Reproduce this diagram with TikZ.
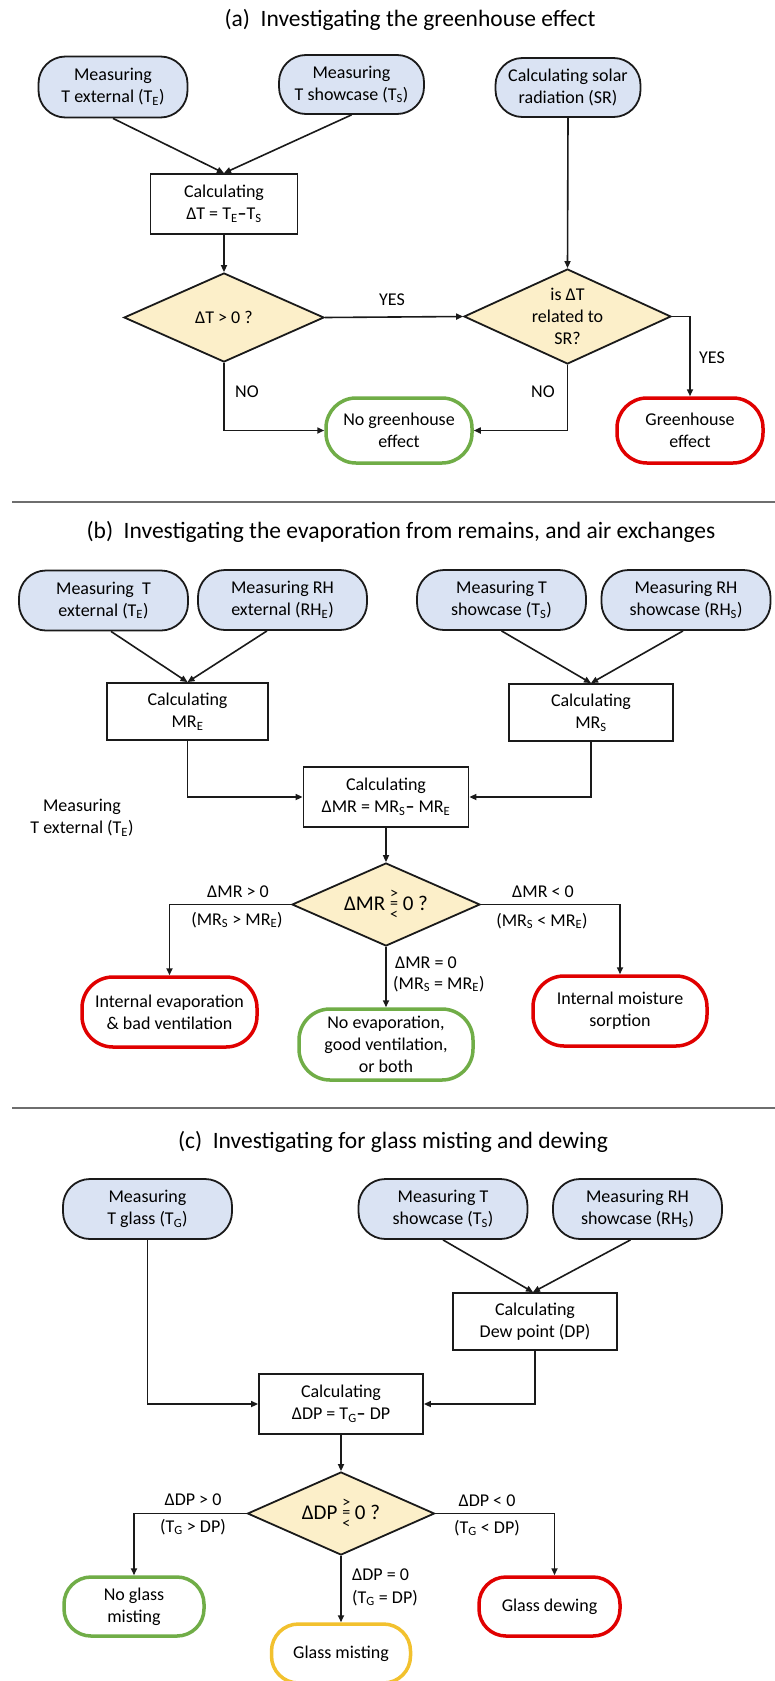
\documentclass[tikz,border=0pt]{standalone}
\usepackage{fontspec}
\setmainfont{Carlito}
\usetikzlibrary{shapes.geometric,arrows.meta}
\definecolor{bluefill}{HTML}{DAE3F3}
\definecolor{diafill}{HTML}{FCEFC9}
\definecolor{okgreen}{HTML}{70AD47}
\definecolor{badred}{HTML}{E00000}
\definecolor{warnyel}{HTML}{F2C12E}
\definecolor{sepgray}{HTML}{6E6E6E}
\definecolor{ink}{HTML}{1A1A1A}
\newcommand{\cmpsym}{{\fontsize{16}{0}\selectfont\rlap{\raisebox{12.2pt}{>}}\rlap{\raisebox{1.5pt}{=}}\raisebox{-8.8pt}{<}}}
\begin{document}
\begin{tikzpicture}[x=1pt,y=-1pt,
  txt/.style={font=\fontsize{18}{22}\selectfont, align=center, inner sep=0pt},
  dtxt/.style={font=\fontsize{21}{25}\selectfont, align=center, inner sep=0pt},
  inbox/.style={txt, draw=ink, fill=bluefill, line width=1.8pt, rounded corners=27pt, minimum width=169pt, minimum height=60pt},
  calcbox/.style={txt, draw=ink, fill=white, line width=1.8pt, minimum width=164pt, minimum height=57pt},
  dia/.style={txt, diamond, draw=ink, fill=diafill, line width=1.8pt},
  outbox/.style={txt, fill=white, line width=3.5pt, rounded corners=28pt},
  good/.style={outbox, draw=okgreen},
  bad/.style={outbox, draw=badred},
  warn/.style={outbox, draw=warnyel},
  flow/.style={draw=ink, line width=1.6pt, -{Triangle[length=7pt,width=6pt]}},
  sep/.style={draw=sepgray, line width=2.8pt},
  ttl/.style={font=\fontsize{23.5}{28}\selectfont, inner sep=0pt},
  lbl/.style={font=\fontsize{18}{22}\selectfont, inner sep=0pt},
]
\fill[white] (0,0) rectangle (775,1681);
\useasboundingbox (0,0) rectangle (775,1681);

% ---------------- (a) ----------------
\node[ttl] (aTitle) at (410,20) {(a)\hspace{0.45em}Investigating the greenhouse effect};
\node[inbox, minimum width=149pt, minimum height=61pt] (aTE) at (113,87) {Measuring\\T external (T\textsubscript{E})};
\node[inbox, minimum width=145pt, minimum height=59pt] (aTS) at (351.5,84.5) {Measuring\\T showcase (T\textsubscript{S})};
\node[inbox, minimum width=145pt, minimum height=59pt] (aSR) at (568,87.5) {Calculating solar\\radiation (SR)};
\node[calcbox, minimum width=147pt, minimum height=60pt] (aCalc) at (224,204) {Calculating\\ΔT = T\textsubscript{E}{\bfseries –}T\textsubscript{S}};
\node[dia, aspect=2.25, minimum width=200pt, minimum height=89pt] (aD1) at (224,317.5) {ΔT > 0 ?};
\node[dia, aspect=2.18, minimum width=207pt, minimum height=95pt] (aD2) at (567.5,316.5) {is ΔT\\related to\\SR?};
\node[good, minimum width=146pt, minimum height=65pt, rounded corners=30pt] (aNG) at (399,430.5) {No greenhouse\\effect};
\node[bad, minimum width=146pt, minimum height=65pt, rounded corners=30pt] (aGH) at (690,430.5) {Greenhouse\\effect};
\node[lbl] (aYes1) at (392,300) {YES};
\node[lbl] (aYes2) at (712,358) {YES};
\node[lbl] (aNo1) at (247,392) {NO};
\node[lbl] (aNo2) at (543,392) {NO};
\draw[flow] (aTE.south) -- (aCalc.north);
\draw[flow] (aTS.south) -- (aCalc.north);
\draw[flow] (aCalc.south) -- (aD1.north);
\draw[flow] (aSR.south) -- (aD2.north);
\draw[flow] (aD1.east) -- (aD2.west);
\draw[flow] (aD2.east) -| (aGH.north);
\draw[flow] (aD1.south) |- (aNG.west);
\draw[flow] (aD2.south) |- (aNG.east);

\draw[sep] (12,502) -- (775,502);

% ---------------- (b) ----------------
\node[ttl] (bTitle) at (401,532) {(b)\hspace{0.45em}Investigating the evaporation from remains, and air exchanges};
\node[inbox] (bTE) at (103.5,600.5) {Measuring~~T\\external (T\textsubscript{E})};
\node[inbox] (bRE) at (282.5,600) {Measuring RH\\external (RH\textsubscript{E})};
\node[inbox] (bTS) at (501.5,600) {Measuring T\\showcase (T\textsubscript{S})};
\node[inbox] (bRS) at (686,600) {Measuring RH\\showcase (RH\textsubscript{S})};
\node[calcbox, minimum width=161pt] (bMRE) at (187.5,711.5) {Calculating\\MR\textsubscript{E}};
\node[calcbox] (bMRS) at (591,712.5) {Calculating\\MR\textsubscript{S}};
\node[calcbox, minimum width=165pt, minimum height=60pt] (bDMR) at (386,797) {Calculating\\ΔMR = MR\textsubscript{S}{\bfseries –} MR\textsubscript{E}};
\node[txt] (bStray) at (82,818) {Measuring\\T external (T\textsubscript{E})};
\node[dia, dtxt, aspect=2.26, minimum width=188pt, minimum height=83pt] (bD) at (386,904.5) {ΔMR \cmpsym\ 0 ?};
\node[bad, minimum width=175pt, minimum height=70pt, rounded corners=31pt] (bIE) at (169.5,1012) {Internal evaporation\\\& bad ventilation};
\node[good, minimum width=174pt, minimum height=71pt, rounded corners=31pt] (bNE) at (386,1044.5) {No evaporation,\\good ventilation,\\or both};
\node[bad, minimum width=174pt, minimum height=70pt, rounded corners=31pt] (bIM) at (620,1011) {Internal moisture\\sorption};
\node[lbl] (bL1) at (238,892) {ΔMR > 0};
\node[lbl] (bL2) at (237,920) {(MR\textsubscript{S} > MR\textsubscript{E})};
\node[lbl] (bL3) at (543,892) {ΔMR < 0};
\node[lbl] (bL4) at (542,921) {(MR\textsubscript{S} < MR\textsubscript{E})};
\node[lbl, anchor=west] (bL5) at (395,963) {ΔMR = 0};
\node[lbl, anchor=west] (bL6) at (393,984) {(MR\textsubscript{S} = MR\textsubscript{E})};
\draw[flow] ([xshift=7.5pt]bTE.south) -- (bMRE.north);
\draw[flow] ([xshift=-15.5pt]bRE.south) -- (bMRE.north);
\draw[flow] (bTS.south) -- (bMRS.north);
\draw[flow] ([xshift=-3pt]bRS.south) -- (bMRS.north);
\draw[flow] (bMRE.south) |- (bDMR.west);
\draw[flow] (bMRS.south) |- (bDMR.east);
\draw[flow] (bDMR.south) -- (bD.north);
\draw[flow] (bD.west) -| (bIE.north);
\draw[flow] (bD.east) -| (bIM.north);
\draw[flow] (bD.south) -- (bNE.north);

\draw[sep] (12,1108) -- (775,1108);

% ---------------- (c) ----------------
\node[ttl] (cTitle) at (393,1142) {(c)\hspace{0.45em}Investigating for glass misting and dewing};
\node[inbox] (cTG) at (147.5,1209) {Measuring\\T glass (T\textsubscript{G})};
\node[inbox] (cTS) at (443,1209) {Measuring T\\showcase (T\textsubscript{S})};
\node[inbox] (cRS) at (637.5,1209) {Measuring RH\\showcase (RH\textsubscript{S})};
\node[calcbox] (cDP) at (535,1321.5) {Calculating\\Dew point (DP)};
\node[calcbox, minimum height=60pt] (cDDP) at (341,1404) {Calculating\\ΔDP = T\textsubscript{G}{\bfseries –} DP};
\node[dia, dtxt, aspect=2.25, minimum width=187pt, minimum height=83pt] (cD) at (341,1513.5) {ΔDP \cmpsym\ 0 ?};
\node[good, minimum width=140pt, minimum height=59pt, rounded corners=27pt] (cNG) at (134,1606.5) {No glass\\misting};
\node[warn, minimum width=139pt, minimum height=59pt, rounded corners=27pt] (cGM) at (341,1653.5) {Glass misting};
\node[bad, minimum width=141pt, minimum height=59pt, rounded corners=27pt] (cGD) at (549.5,1606.5) {Glass dewing};
\node[lbl] (cL1) at (193,1500) {ΔDP > 0};
\node[lbl] (cL2) at (193,1527) {(T\textsubscript{G} > DP)};
\node[lbl] (cL3) at (487,1501) {ΔDP < 0};
\node[lbl] (cL4) at (487,1528) {(T\textsubscript{G} < DP)};
\node[lbl, anchor=west] (cL5) at (352,1575) {ΔDP = 0};
\node[lbl, anchor=west] (cL6) at (352,1598) {(T\textsubscript{G} = DP)};
\draw[flow] (cTG.south) |- (cDDP.west);
\draw[flow] (cTS.south) -- ([xshift=-2pt]cDP.north);
\draw[flow] ([xshift=-7pt]cRS.south) -- ([xshift=-2pt]cDP.north);
\draw[flow] (cDP.south) |- (cDDP.east);
\draw[flow] (cDDP.south) -- (cD.north);
\draw[flow] (cD.west) -| (cNG.north);
\draw[flow] (cD.east) -| ([xshift=5pt]cGD.north);
\draw[flow] (cD.south) -- (cGM.north);
\end{tikzpicture}
\end{document}
